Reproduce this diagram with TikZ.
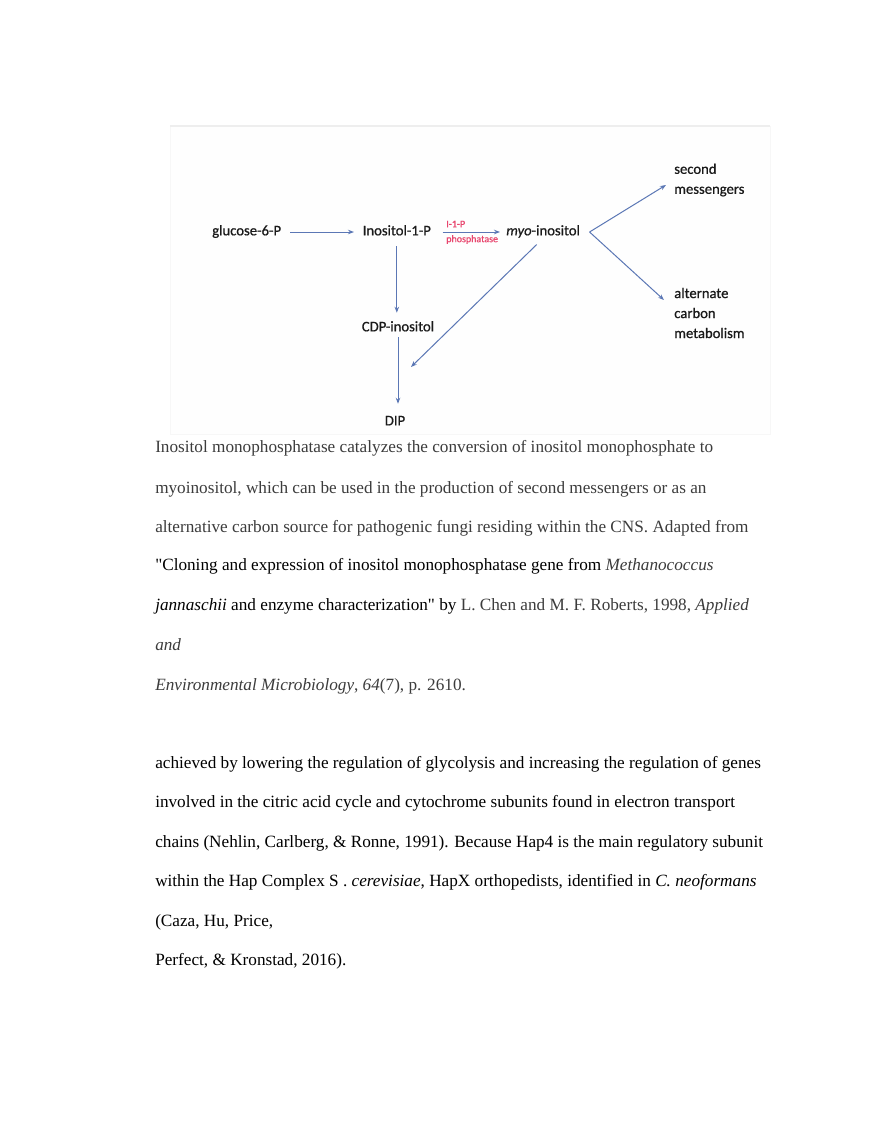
\documentclass[tikz,border=0pt]{standalone}
\usepackage{fontspec}
\setmainfont{Liberation Serif}
\newfontfamily\diagfont[FakeBold=0.7]{Carlito}
\usetikzlibrary{arrows.meta}
\definecolor{arrowblue}{HTML}{5B77B5}
\definecolor{labred}{HTML}{E8466E}
\definecolor{diagtext}{HTML}{1A1A1A}
\definecolor{captext}{HTML}{3C3C3C}
\definecolor{figfill}{HTML}{FEFEFE}
\definecolor{figedge}{HTML}{F7F7F7}
\definecolor{figtop}{HTML}{EEEEEE}
\begin{document}
\begin{tikzpicture}[x=0.75pt,y=-0.75pt,
  lbl/.style={font=\diagfont\fontsize{11}{15}\selectfont, text=diagtext, inner sep=0pt, text height=7pt, text depth=2pt},
  lblm/.style={font=\diagfont\fontsize{11}{15}\selectfont, text=diagtext, inner sep=0pt, align=left, anchor=west},
  enz/.style={font=\diagfont\fontsize{7.5}{8}\selectfont, text=labred, inner sep=0pt, anchor=west},
  arr/.style={draw=arrowblue, line width=0.75pt, -{Stealth[length=4.5pt,width=3.4pt]}},
  body/.style={font=\fontsize{12.9}{15}\selectfont, anchor=base west, inner sep=0pt, text=black},
  ]
\useasboundingbox (0,0) rectangle (880,1139);
\fill[white] (0,0) rectangle (880,1139);
\filldraw[fill=figfill, draw=figedge, line width=0.6pt] (170,126) rectangle (770,434);
\draw[figtop, line width=0.8pt] (170,126) -- (770,126);

% diagram nodes
\node[lbl, anchor=west] (g) at (212,232) {glucose-6-P};
\node[lbl, anchor=west] (i) at (362.5,232) {Inositol-1-P};
\node[lbl, anchor=west] (m) at (506,232) {\textit{myo}-inositol};
\node[lbl] (c) at (398,328) {CDP-inositol};
\node[lbl] (d) at (395,422) {DIP};
\node[lblm] (sm) at (674,180) {second\\messengers};
\node[lblm] (acm) at (674,313) {alternate\\carbon\\metabolism};
\node[enz] (e1) at (446,224) {I-1-P};
\node[enz] (e2) at (446,239.5) {phosphatase};

\coordinate (v) at ([xshift=7pt]m.east);
\coordinate (vt) at (666,185);
\coordinate (vb) at (664,300);
\coordinate (dj) at (411,367);

% connectors
\draw[arr, shorten <=6.75pt, shorten >=6.4pt] (g.east) -- (i.west);
\draw[arr, shorten <=8.7pt, shorten >=4.5pt] (i.east) -- (m.west);
\draw[arr, shorten <=6pt, shorten >=6.75pt] (i.south) -- (i.south |- c.north);
\draw[arr, shorten <=2.25pt, shorten >=9pt] (c.south) -- (c.south |- d.north);
\draw[arr, shorten <=6.75pt] (m.south) -- (dj);
\draw[arr] (v) -- (vt);
\draw[arr] (v) -- (vb);

% caption text
\node[body, text=captext] (p1) at (155,452.7) {Inositol monophosphatase catalyzes the conversion of inositol monophosphate to};
\node[body, text=captext] (p2) at (155,493) {myoinositol, which can be used in the production of second messengers or as an};
\node[body, text=captext] (p3) at (155,532) {alternative carbon source for pathogenic fungi residing within the CNS. Adapted from};
\node[body] (p4) at (155,570) {\textquotedbl Cloning and expression of inositol monophosphatase gene from {\color{captext}\textit{Methanococcus}}};
\node[body] (p5) at (155,610) {\textit{jannaschii} and enzyme characterization\textquotedbl\ by {\color{captext}L. Chen and M. F. Roberts, 1998, \textit{Applied}}};
\node[body, text=captext] (p6) at (155,650) {\textit{and}};
\node[body, text=captext] (p7) at (155,690) {\textit{Environmental Microbiology}, \textit{64}(7), p. 2610.};

% body text
\node[body] (q1) at (155,768) {achieved by lowering the regulation of glycolysis and increasing the regulation of genes};
\node[body] (q2) at (155,807.5) {involved in the citric acid cycle and cytochrome subunits found in electron transport};
\node[body] (q3) at (155,847) {chains (Nehlin, Carlberg, \& Ronne, 1991). Because Hap4 is the main regulatory subunit};
\node[body] (q4) at (155,886.5) {within the Hap Complex S . \textit{cerevisiae}, HapX orthopedists, identified in \textit{C. neoformans}};
\node[body] (q5) at (155,926) {(Caza, Hu, Price,};
\node[body] (q6) at (155,965.5) {Perfect, \& Kronstad, 2016).};
\end{tikzpicture}
\end{document}
